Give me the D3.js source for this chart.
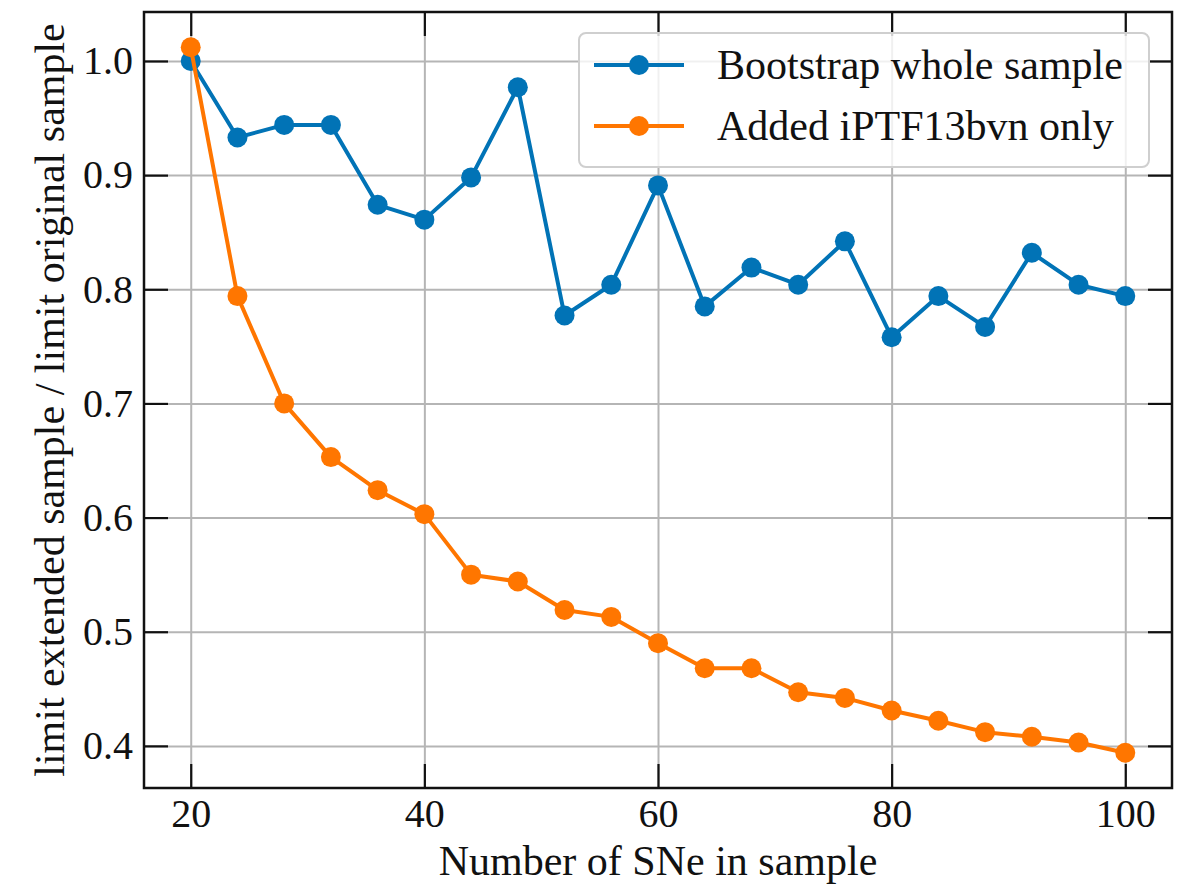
<!DOCTYPE html>
<html>
<head>
<meta charset="utf-8">
<script src="https://cdn.jsdelivr.net/npm/d3@7"></script>
<style>
  html, body { margin: 0; padding: 0; background: #fff; }
  svg text { font-family: "Liberation Serif", "DejaVu Serif", serif; fill: #111; }
</style>
</head>
<body>
<svg id="chart" width="1184" height="891"></svg>
<script>
// sample sizes and the two limit ratios
var sampleSizes = [20, 24, 28, 32, 36, 40, 44, 48, 52, 56, 60, 64, 68, 72, 76, 80, 84, 88, 92, 96, 100];
var bootstrapWhole = [1.000, 0.933, 0.944, 0.944, 0.874, 0.861, 0.898, 0.977, 0.777, 0.804, 0.891,
                      0.785, 0.819, 0.804, 0.842, 0.758, 0.794, 0.767, 0.832, 0.804, 0.794];
var addedOnly = [1.012, 0.794, 0.700, 0.653, 0.624, 0.603, 0.550, 0.544, 0.519, 0.513, 0.490,
                 0.468, 0.468, 0.447, 0.442, 0.431, 0.422, 0.412, 0.408, 0.403, 0.394];
var seriesNames = ["Bootstrap whole sample", "Added iPTF13bvn only"];
var xTicks = [20, 40, 60, 80, 100];
var yTicks = [0.4, 0.5, 0.6, 0.7, 0.8, 0.9, 1.0];

var colors = ["#0173b6", "#ff7600"];

var margin = {top: 12, right: 12, bottom: 103, left: 144};
var svg = d3.select("#chart");
var width = 1184 - margin.left - margin.right;
var height = 891 - margin.top - margin.bottom;

var g = svg.append("g").attr("transform", "translate(" + margin.left + "," + margin.top + ")");

// 5% padding on each side, like matplotlib autoscale
function padded(ext) {
  var pad = (ext[1] - ext[0]) * 0.05;
  return [ext[0] - pad, ext[1] + pad];
}

var x = d3.scaleLinear()
          .domain(padded(d3.extent(sampleSizes)))
          .range([0, width]);

var y = d3.scaleLinear()
          .domain(padded(d3.extent(bootstrapWhole.concat(addedOnly))))
          .range([height, 0]);

// grid
var gridX = g.append("g")
             .attr("class", "grid")
             .attr("transform", "translate(0," + height + ")")
             .call(d3.axisBottom(x).tickValues(xTicks).tickSize(-height).tickFormat(""));
var gridY = g.append("g")
             .attr("class", "grid")
             .call(d3.axisLeft(y).tickValues(yTicks).tickSize(-width).tickFormat(""));
g.selectAll(".grid .domain").remove();
g.selectAll(".grid line").attr("stroke", "#b5b5b5").attr("stroke-width", 2);

// lines and markers
var series = [bootstrapWhole, addedOnly];

var makeLine = d3.line()
                 .x(function(d, i) { return x(sampleSizes[i]); })
                 .y(function(d) { return y(d); });

series.forEach(function(vals, k) {
  g.append("path")
   .datum(vals)
   .attr("fill", "none")
   .attr("stroke", colors[k])
   .attr("stroke-width", 4)
   .attr("stroke-linejoin", "round")
   .attr("d", makeLine);

  g.append("g")
   .selectAll("circle")
   .data(vals)
   .enter()
   .append("circle")
   .attr("cx", function(d, i) { return x(sampleSizes[i]); })
   .attr("cy", function(d) { return y(d); })
   .attr("r", 10)
   .attr("fill", colors[k]);
});

// axes, ticks pointing inward on all four sides
var tickLen = 24;

var xAxis = g.append("g")
             .attr("transform", "translate(0," + height + ")")
             .call(d3.axisBottom(x).tickValues(xTicks).tickSizeInner(-tickLen).tickSizeOuter(0).tickPadding(11));
var yAxis = g.append("g")
             .call(d3.axisLeft(y).tickValues(yTicks).tickSizeInner(-tickLen).tickSizeOuter(0).tickPadding(11)
                     .tickFormat(d3.format(".1f")));
var topAxis = g.append("g")
               .call(d3.axisTop(x).tickValues(xTicks).tickSizeInner(-tickLen).tickSizeOuter(0).tickFormat(""));
var rightAxis = g.append("g")
                 .attr("transform", "translate(" + width + ",0)")
                 .call(d3.axisRight(y).tickValues(yTicks).tickSizeInner(-tickLen).tickSizeOuter(0).tickFormat(""));

[xAxis, yAxis, topAxis, rightAxis].forEach(function(a) {
  a.select(".domain").remove();
  a.selectAll("line").attr("stroke", "#111").attr("stroke-width", 2.2);
  a.selectAll("text").attr("font-size", 40).attr("fill", "#111")
   .style("font-family", "'Liberation Serif', serif");
});

// frame
g.append("rect")
 .attr("width", width)
 .attr("height", height)
 .attr("fill", "none")
 .attr("stroke", "#111")
 .attr("stroke-width", 2.5);

// axis labels
svg.append("text")
   .attr("x", margin.left + width / 2)
   .attr("y", 875)
   .attr("text-anchor", "middle")
   .attr("font-size", 42)
   .text("Number of SNe in sample");

svg.append("text")
   .attr("transform", "translate(64," + (margin.top + height / 2) + ") rotate(-90)")
   .attr("text-anchor", "middle")
   .attr("font-size", 42)
   .text("limit extended sample / limit original sample");

// legend
var legend = g.append("g").attr("transform", "translate(" + (579 - margin.left) + "," + (33 - margin.top) + ")");

legend.append("rect")
      .attr("width", 570)
      .attr("height", 134)
      .attr("rx", 7)
      .attr("fill", "#fff")
      .attr("fill-opacity", 0.8)
      .attr("stroke", "#cfcfcf")
      .attr("stroke-width", 2);

seriesNames.forEach(function(name, k) {
  var ry = 32 + k * 61;
  legend.append("line")
        .attr("x1", 15).attr("x2", 105)
        .attr("y1", ry).attr("y2", ry)
        .attr("stroke", colors[k])
        .attr("stroke-width", 4);
  legend.append("circle")
        .attr("cx", 60).attr("cy", ry)
        .attr("r", 10)
        .attr("fill", colors[k]);
  legend.append("text")
        .attr("x", 138)
        .attr("y", ry)
        .attr("dy", "0.33em")
        .attr("font-size", 42)
        .text(name);
});
</script>
</body>
</html>
